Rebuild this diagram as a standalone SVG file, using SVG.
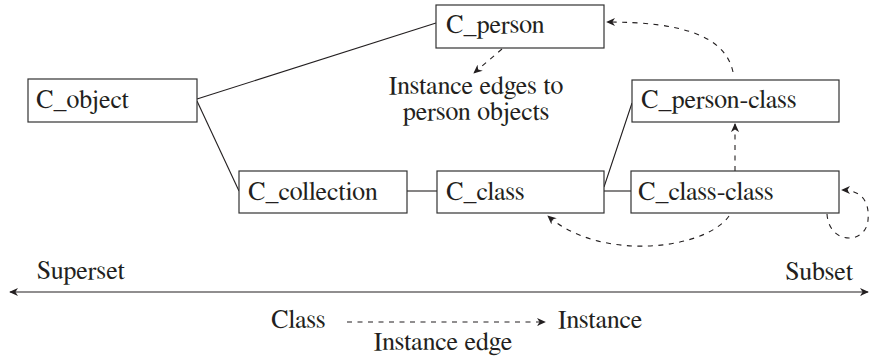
<svg xmlns="http://www.w3.org/2000/svg" width="870" height="360" viewBox="0 0 870 360">
<defs>
<style>
.box{fill:#fff;stroke:#333;stroke-width:1.2}
.t{font-family:'FreeSerif','Liberation Serif','Times New Roman',serif;font-size:26px;fill:#231f20}
.ln{fill:none;stroke:#231f20;stroke-width:1.1}
.dash{fill:none;stroke:#231f20;stroke-width:1.1;stroke-dasharray:5 5.5}
</style>
<marker id="ah" viewBox="0 0 10 10" refX="9" refY="5" markerWidth="9" markerHeight="9" markerUnits="userSpaceOnUse" orient="auto-start-reverse">
<path d="M0,0.5 L10,5 L0,9.5 L3,5 z" fill="#231f20"/>
</marker>
</defs>
<rect width="870" height="360" fill="#fff"/>
<g id="connectors">
<path class="ln" d="M197,99 L436,23"/>
<path class="ln" d="M197,101 L239,191"/>
<path class="ln" d="M407,191 L437,191"/>
<path class="ln" d="M604,191 L631,191"/>
<path class="ln" d="M604,187 L632,103"/>
<path class="dash" d="M733,72 C725,35 680,22 607,22" marker-end="url(#ah)"/>
<path class="dash" d="M735,171 L735,124" marker-end="url(#ah)"/>
<path class="dash" d="M729,216 C705,250 600,262 548,216" marker-end="url(#ah)"/>
<path class="dash" d="M827,214 C829,245 866,245 868,220 C870,198 858,190 842,190" marker-end="url(#ah)"/>
<path class="dash" d="M502,49 L474,73" marker-end="url(#ah)"/>
<path class="ln" d="M10,292 L868,292" marker-start="url(#ah)" marker-end="url(#ah)"/>
<path class="dash" d="M347,322 L545,322" marker-end="url(#ah)"/>
</g>
<g id="C_person"><rect class="box" x="436" y="5" width="168" height="43"/><text class="t" x="446" y="33">C_person</text></g>
<g id="C_object"><rect class="box" x="28" y="79" width="169" height="43"/><text class="t" x="36" y="108">C_object</text></g>
<g id="C_person-class"><rect class="box" x="632" y="80" width="207" height="42"/><text class="t" x="641" y="108">C_person-class</text></g>
<g id="C_collection"><rect class="box" x="239" y="171" width="168" height="42"/><text class="t" x="248" y="200">C_collection</text></g>
<g id="C_class"><rect class="box" x="437" y="171" width="167" height="42"/><text class="t" x="446" y="200">C_class</text></g>
<g id="C_class-class"><rect class="box" x="631" y="171" width="208" height="42"/><text class="t" x="638" y="200">C_class-class</text></g>
<g id="labels">
<text class="t" x="476" y="94" text-anchor="middle">Instance edges to</text>
<text class="t" x="476" y="120" text-anchor="middle">person objects</text>
<text class="t" x="37" y="279">Superset</text>
<text class="t" x="853" y="280" text-anchor="end">Subset</text>
<text class="t" x="271" y="328">Class</text>
<text class="t" x="558" y="328">Instance</text>
<text class="t" x="443" y="350" text-anchor="middle">Instance edge</text>
</g>
</svg>
